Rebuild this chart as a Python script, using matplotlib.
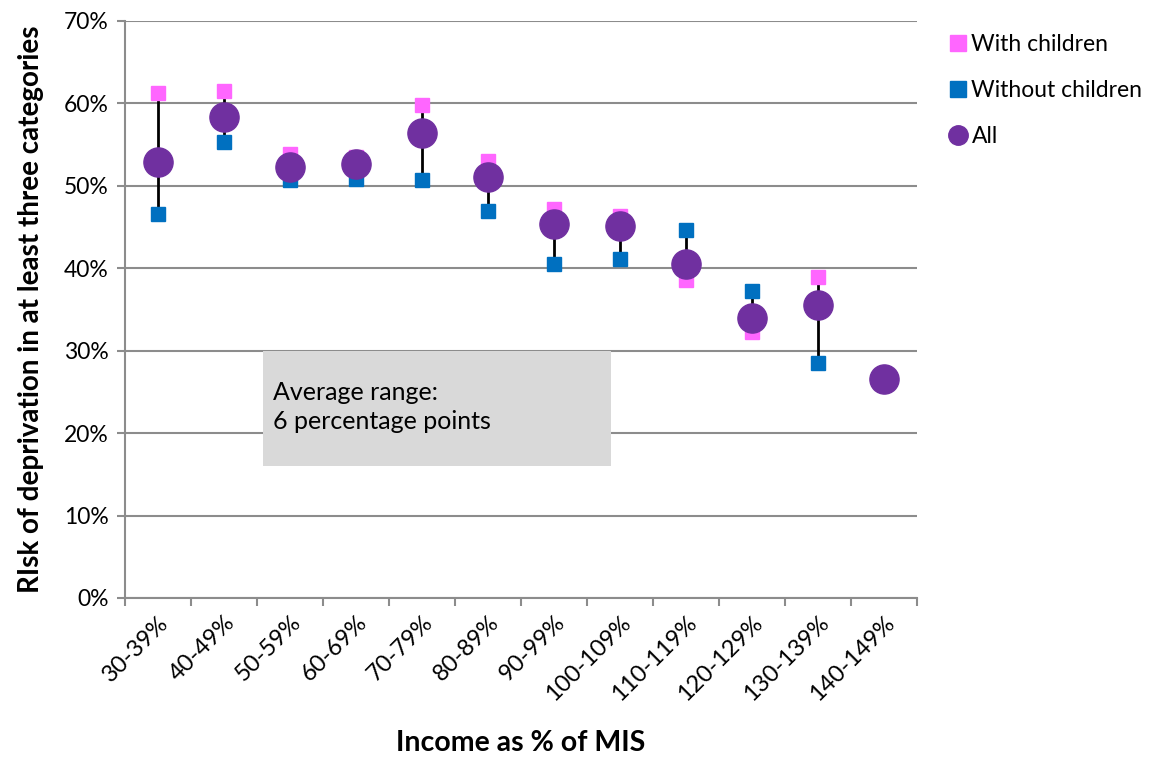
import matplotlib
matplotlib.use("Agg")
import matplotlib.pyplot as plt
import numpy as np
from matplotlib.patches import Rectangle
from matplotlib.lines import Line2D

categories = ["30-39%", "40-49%", "50-59%", "60-69%", "70-79%", "80-89%",
              "90-99%", "100-109%", "110-119%", "120-129%", "130-139%", "140-149%"]
with_children = [61.3, 61.5, 53.9, 53.5, 59.8, 53.0, 47.2, 46.3, 38.6, 32.3, 38.9, np.nan]
without_children = [46.6, 55.3, 50.7, 50.8, 50.7, 46.9, 40.5, 41.1, 44.6, 37.3, 28.5, np.nan]
all_hh = [52.9, 58.4, 52.3, 52.6, 56.4, 51.1, 45.4, 45.1, 40.5, 34.0, 35.5, 26.6]

pink = "#FF66FF"
blue = "#0070C0"
purple = "#7030A0"
grey = "#8C8C8C"

plt.rcParams['font.family'] = ['Lato', 'DejaVu Sans']

fig = plt.figure(figsize=(11.6, 7.6), dpi=100)
ax = fig.add_axes([0.1078, 0.2132, 0.6827, 0.7592])

x = np.arange(len(categories))
wc = np.array(with_children)
woc = np.array(without_children)

# high-low lines
for i in x:
    if not np.isnan(wc[i]):
        ax.plot([i, i], [wc[i], woc[i]], color="black", lw=2, zorder=2)

ax.plot(x, wc, ls="none", marker="s", ms=10.5, color=pink, zorder=3)
ax.plot(x, woc, ls="none", marker="s", ms=10.5, color=blue, zorder=3)
ax.plot(x, all_hh, ls="none", marker="o", ms=21, color=purple, zorder=4)

ax.set_xlim(-0.5, len(categories) - 0.5)
ax.set_ylim(0, 70)
ax.set_yticks(np.arange(0, 71, 10))
ax.set_yticklabels([f"{v}%" for v in range(0, 71, 10)], fontsize=16.5)
ax.set_xticks(x)
ax.set_xticklabels(categories, rotation=45, ha="right", va="top",
                   rotation_mode="anchor", fontsize=17)
ax.set_xticks(np.arange(-0.5, len(categories), 1), minor=True)
ax.tick_params(axis="x", which="major", length=0, pad=10)
ax.tick_params(axis="x", which="minor", length=6, color=grey, width=1.5)
ax.tick_params(axis="y", length=6, color=grey, width=1.5, pad=6)

ax.grid(axis="y", color=grey, lw=1.5, zorder=0)
ax.set_axisbelow(True)
for s in ["top", "right"]:
    ax.spines[s].set_visible(False)
for s in ["left", "bottom"]:
    ax.spines[s].set_color(grey)
    ax.spines[s].set_linewidth(1.5)

ax.set_ylabel("RIsk of deprivation in at least three categories",
              fontsize=20, fontweight="bold", labelpad=14)
ax.set_xlabel("Income as % of MIS", fontsize=20.5, fontweight="bold", labelpad=18)

# annotation box
box = Rectangle((1.59, 16.0), 5.27, 14.0, facecolor="#D9D9D9", edgecolor="none",
                zorder=1.5)
ax.add_patch(box)
ax.text(1.74, 23.2, "Average range:\n6 percentage points", fontsize=18,
        va="center", ha="left", linespacing=1.3, zorder=5)

handles = [
    Line2D([], [], ls="none", marker="s", ms=11, color=pink, label="With children"),
    Line2D([], [], ls="none", marker="s", ms=11, color=blue, label="Without children"),
    Line2D([], [], ls="none", marker="o", ms=14, color=purple, label="All"),
]
fig.legend(handles=handles, loc="upper left", bbox_to_anchor=(0.797, 0.983),
           frameon=False, fontsize=16.5, handletextpad=0.05, labelspacing=1.1,
           handlelength=1.1)

plt.savefig("out.png", dpi=100)
